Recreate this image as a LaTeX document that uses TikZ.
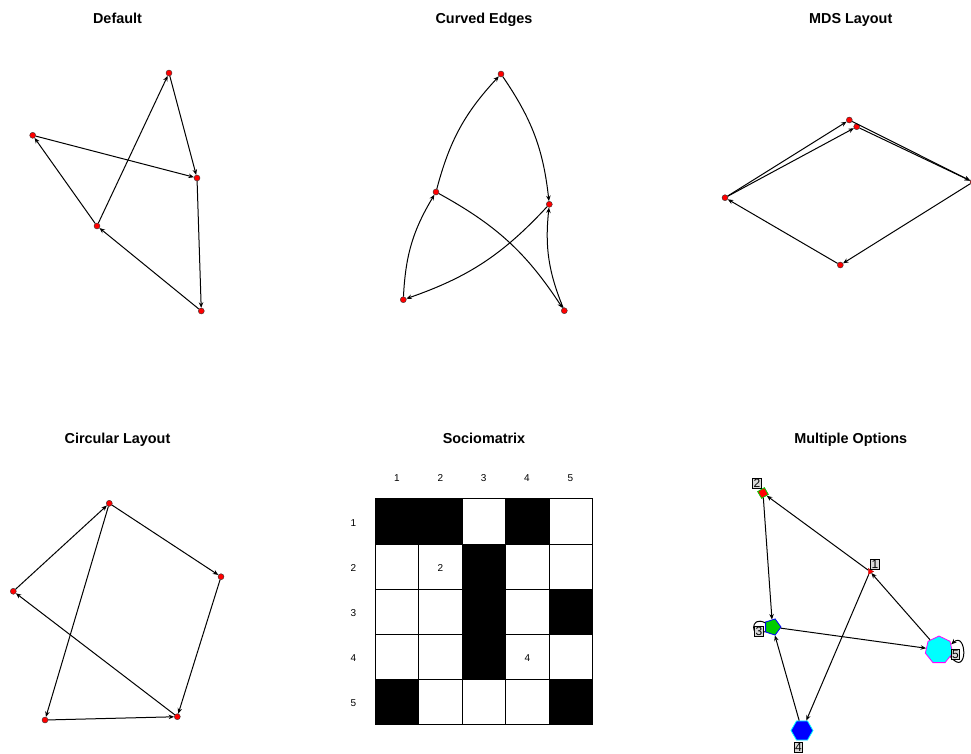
\documentclass[tikz,border=0pt]{standalone}
\usepackage{fontspec}
\setmainfont{Liberation Sans}
\usetikzlibrary{arrows.meta,shapes.geometric}
\definecolor{rred}{RGB}{255,0,0}
\definecolor{rgreen}{RGB}{0,205,0}
\definecolor{rblue}{RGB}{0,0,255}
\definecolor{rcyan}{RGB}{0,255,255}
\definecolor{rmag}{RGB}{255,0,255}
\definecolor{lblgrey}{RGB}{217,217,217}
\begin{document}
\begin{tikzpicture}[x=1pt,y=-1pt,
  vtx/.style={circle,fill=rred,draw=black!80,line width=0.4pt,inner sep=0pt,minimum size=6pt},
  edg/.style={line width=1pt,-{Stealth[length=5.5pt,width=4.5pt]}},
  ttl/.style={font=\bfseries\fontsize{14.4}{17}\selectfont,anchor=base},
  num/.style={font=\fontsize{10}{12}\selectfont,anchor=base},
  lbl/.style={draw=black,fill=lblgrey,line width=0.6pt,inner sep=0.9pt,font=\fontsize{12}{13}\selectfont},
  poly/.style={regular polygon,inner sep=0pt,line width=0.8pt},
  cellw/.style={draw=black,line width=0.6pt,fill=white},
  cellb/.style={draw=black,line width=0.6pt,fill=black}
]
\useasboundingbox (0,0) rectangle (971,753);

% ---------- titles
\node[ttl] (t1) at (117.5,23.3) {Default};
\node[ttl] (t2) at (484,23.3) {Curved Edges};
\node[ttl] (t3) at (850.7,23.3) {MDS Layout};
\node[ttl] (t4) at (117.5,443.3) {Circular Layout};
\node[ttl] (t5) at (484,443.3) {Sociomatrix};
\node[ttl] (t6) at (850.7,443.3) {Multiple Options};

% ---------- Default
\node[vtx] (d1) at (97,226) {};
\node[vtx] (d2) at (169,73) {};
\node[vtx] (d4) at (32.7,135.3) {};
\node[vtx] (d3) at (197,178) {};
\node[vtx] (d5) at (201.3,311) {};
\draw[edg] (d1) -- (d2);
\draw[edg] (d1) -- (d4);
\draw[edg] (d2) -- (d3);
\draw[edg] (d4) -- (d3);
\draw[edg] (d3) -- (d5);
\draw[edg] (d5) -- (d1);

% ---------- Curved Edges
\node[vtx] (c1) at (436,192) {};
\node[vtx] (c2) at (501,74) {};
\node[vtx] (c4) at (564.3,310.7) {};
\node[vtx] (c3) at (549.3,204.3) {};
\node[vtx] (c5) at (403.3,299.7) {};
\draw[edg] (c1) to[bend left=14] (c2);
\draw[edg] (c1) to[bend left=14] (c4);
\draw[edg] (c2) to[bend left=14] (c3);
\draw[edg] (c4) to[bend left=14] (c3);
\draw[edg] (c3) to[bend left=14] (c5);
\draw[edg] (c5) to[bend left=14] (c1);

% ---------- MDS Layout
\node[vtx] (m1) at (725,197.7) {};
\node[vtx] (m2) at (849.3,120) {};
\node[vtx] (m4) at (856.7,126.7) {};
\node[vtx] (m3) at (973,182) {};
\node[vtx] (m5) at (840.3,265) {};
\draw[edg] (m1) -- (m2);
\draw[edg] (m1) -- (m4);
\draw[edg] (m2) -- (m3);
\draw[edg] (m4) -- (m3);
\draw[edg] (m3) -- (m5);
\draw[edg] (m5) -- (m1);

% ---------- Circular Layout
\node[vtx] (r1) at (109.3,503.3) {};
\node[vtx] (r2) at (221,576.7) {};
\node[vtx] (r4) at (45,720) {};
\node[vtx] (r3) at (177.3,716.7) {};
\node[vtx] (r5) at (13.3,591.3) {};
\draw[edg] (r1) -- (r2);
\draw[edg] (r1) -- (r4);
\draw[edg] (r2) -- (r3);
\draw[edg] (r4) -- (r3);
\draw[edg] (r3) -- (r5);
\draw[edg] (r5) -- (r1);

% ---------- Sociomatrix
\foreach \c/\x in {1/397,2/440.3,3/483.7,4/527,5/570.3}
  \node[num] (col\c) at (\x,481) {\c};
\foreach \r/\y in {1/526.3,2/571.4,3/616.7,4/661.7,5/706}
  \node[num] (row\r) at (353.3,\y) {\r};
\foreach \r in {1,...,5}
  \foreach \c in {1,...,5}
    \draw[cellw] ({375+(\c-1)*43.55},{498.7+(\r-1)*45.12}) rectangle ++(43.55,45.12);
\foreach \r/\c in {1/1,1/2,1/4,2/3,3/3,3/5,4/3,5/1,5/5}
    \draw[cellb] ({375+(\c-1)*43.55},{498.7+(\r-1)*45.12}) rectangle ++(43.55,45.12);
\node[num] (v22) at ({375+1.5*43.55},571.4) {2};
\node[num] (v44) at ({375+3.5*43.55},661.7) {4};

% ---------- Multiple Options
\node[poly,regular polygon sides=3,fill=rred,draw=rred!70!black,line width=0.4pt,minimum size=7pt,rotate=30] (o1) at (870,571.5) {};
\node[poly,regular polygon sides=4,fill=rred,draw=rgreen,minimum size=11pt,rotate=30] (o2) at (763,493) {};
\node[poly,regular polygon sides=5,fill=rgreen,draw=rblue,minimum size=17pt,rotate=-90] (o3) at (772.5,627) {};
\node[poly,regular polygon sides=6,fill=rblue,draw=rcyan,minimum size=22pt] (o4) at (802,730.5) {};
\node[poly,regular polygon sides=7,fill=rcyan,draw=rmag,minimum size=28pt] (o5) at (939,650) {};
\draw[edg] (o1) -- (o2);
\draw[edg] (o2) -- (o3);
\draw[edg] (o1) -- (o4);
\draw[edg] (o4) -- (o3);
\draw[edg] (o3) -- (o5);
\draw[edg] (o5) -- (o1);
\draw[edg] (o5.-30) .. controls +(18,22) and +(16,-14) .. (o5.25);
\draw[edg] (o3.240) .. controls +(-16,-8) and +(-14,8) .. (o3.300);
\node[lbl] (l1) at (875,564.5) {1};
\node[lbl] (l2) at (757,483) {2};
\node[lbl] (l3) at (759,631.5) {3};
\node[lbl] (l4) at (798.5,747) {4};
\node[lbl] (l5) at (955.5,654) {5};
\end{tikzpicture}
\end{document}
